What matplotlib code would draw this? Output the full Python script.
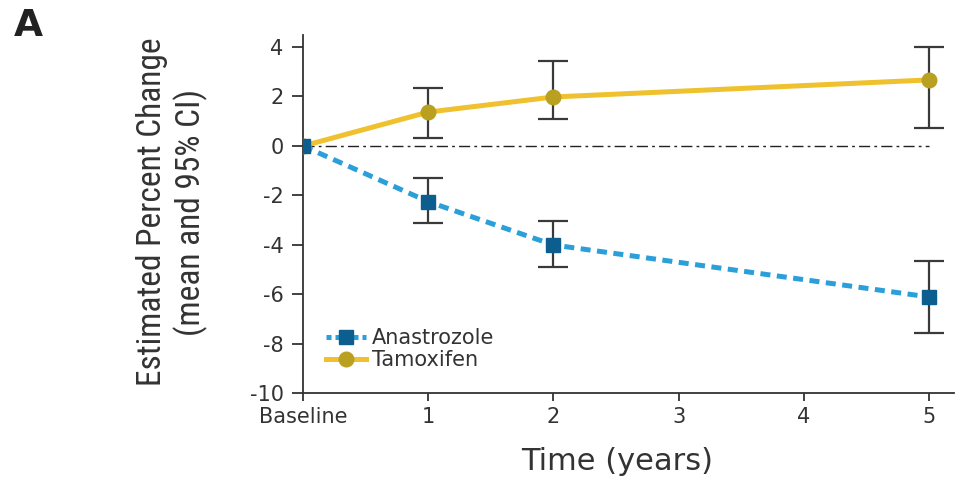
import matplotlib.pyplot as plt
from matplotlib.lines import Line2D
from matplotlib import font_manager

plt.rcParams["axes.unicode_minus"] = False

# data
time_pts = [0, 1, 2, 5]
tick_pos = [0, 1, 2, 3, 4, 5]
tick_labels = ["Baseline", "1", "2", "3", "4", "5"]

ana_mean = [0, -2.25, -4.0, -6.1]
ana_lo = [0, -3.1, -4.9, -7.55]
ana_hi = [0, -1.3, -3.05, -4.65]

tam_mean = [0, 1.37, 1.98, 2.67]
tam_lo = [0, 0.32, 1.1, 0.72]
tam_hi = [0, 2.34, 3.43, 4.0]

gold_line = "#F0C12E"
gold_mark = "#B9A020"
blue_line = "#2B9FDA"
blue_mark = "#0B5E8E"
dark = "#333333"

# the y label in the reference is a condensed face
installed = {f.name for f in font_manager.fontManager.ttflist}
if "Roboto Condensed" in installed:
    ylab_family, ylab_size = "Roboto Condensed", 24
elif "Liberation Sans Narrow" in installed:
    ylab_family, ylab_size = "Liberation Sans Narrow", 25
else:
    ylab_family, ylab_size = "Liberation Sans", 21

fig = plt.figure(figsize=(9.66, 4.84), dpi=100)
ax = fig.add_axes([0.3137, 0.187, 0.674, 0.7415])

# zero reference line
ax.plot([0, 5], [0, 0], color="#222222", lw=1.0, ls=(0, (8, 3, 2, 3)), zorder=1)

# error bars (skip baseline)
for mean, lo, hi in [(ana_mean, ana_lo, ana_hi), (tam_mean, tam_lo, tam_hi)]:
    yerr = [[m - l for m, l in zip(mean[1:], lo[1:])],
            [h - m for m, h in zip(mean[1:], hi[1:])]]
    ax.errorbar(time_pts[1:], mean[1:], yerr=yerr, fmt="none", ecolor="#3a3a3a",
                elinewidth=1.6, capsize=10.5, capthick=1.6, zorder=2)

ax.plot(time_pts, tam_mean, color=gold_line, lw=3.6, zorder=3)
ax.plot(time_pts, tam_mean, "o", color=gold_mark, ms=10.5, mec=gold_mark, zorder=4)
ax.plot(time_pts, ana_mean, color=blue_line, lw=3.6, ls=(0, (2.0, 1.3)), zorder=3)
ax.plot(time_pts, ana_mean, "s", color=blue_mark, ms=10, mec=blue_mark, zorder=5)

ax.set_xlim(0, 5.2)
ax.set_ylim(-10, 4.5)
ax.set_yticks(range(-10, 5, 2))
ax.set_xticks(tick_pos)
ax.set_xticklabels(tick_labels)

for side in ["top", "right"]:
    ax.spines[side].set_visible(False)
for side in ["left", "bottom"]:
    ax.spines[side].set_color(dark)
    ax.spines[side].set_linewidth(1.3)
ax.tick_params(axis="y", length=8, width=1.3, color=dark, pad=6,
               labelsize=15, labelcolor=dark)
ax.tick_params(axis="x", length=6, width=1.3, color=dark, pad=4,
               labelsize=15, labelcolor=dark)

# legend
handles = [
    Line2D([], [], color=blue_line, lw=3.6, ls=(0, (1.0, 0.8)), marker="s",
           ms=10, mfc=blue_mark, mec=blue_mark),
    Line2D([], [], color=gold_line, lw=3.6, marker="o", ms=10.5,
           mfc=gold_mark, mec=gold_mark),
]
fig.legend(handles, ["Anastrozole", "Tamoxifen"], loc="upper left",
           bbox_to_anchor=(326 / 966, 1 - 328 / 484), frameon=False,
           fontsize=15, handlelength=1.9, handletextpad=0.3,
           labelspacing=0.1, borderpad=0, borderaxespad=0,
           labelcolor=dark)

fig.text(172 / 966, 1 - 212 / 484, "Estimated Percent Change\n(mean and 95% CI)",
         rotation=90, ha="center", va="center", fontsize=ylab_size, linespacing=1.2,
         family=[ylab_family, "DejaVu Sans"], color=dark)
fig.text(617 / 966, 1 - 462 / 484, "Time (years)", ha="center", va="center",
         fontsize=22, color=dark)
fig.text(14 / 966, 1 - 8 / 484, "A", ha="left", va="top", fontsize=27,
         fontweight="bold", color="#222222")

fig.savefig("out.png", dpi=100)
